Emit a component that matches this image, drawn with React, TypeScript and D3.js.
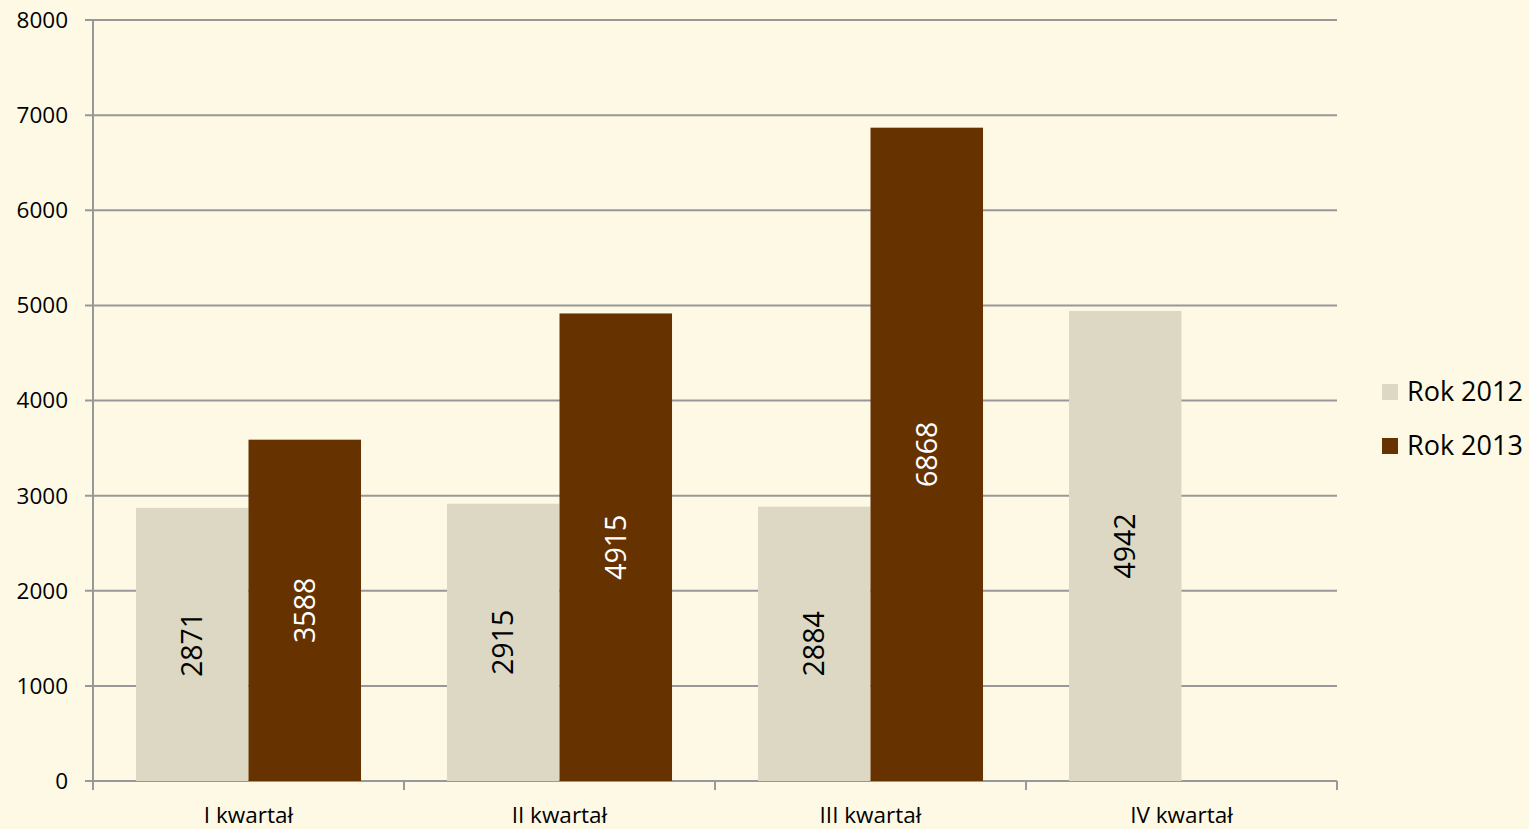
import React from "react";
import * as d3 from "d3";

const categories = ["I kwartał", "II kwartał", "III kwartał", "IV kwartał"];
const series2012 = [2871, 2915, 2884, 4942];
const series2013: (number | null)[] = [3588, 4915, 6868, null];
const seriesNames = ["Rok 2012", "Rok 2013"];
const yTicks = [0, 1000, 2000, 3000, 4000, 5000, 6000, 7000, 8000];

const W = 1529;
const H = 829;
const FONT = "Open Sans, Noto Sans, sans-serif";
const colors = ["#DDD8C3", "#663300"];
const labelColors = ["#000000", "#FFFFFF"];

export default function App() {
  const left = 93, right = 1337, top = 20, bottom = 781;
  const x = d3.scaleBand<string>().domain(categories).range([left, right]).paddingInner(0).paddingOuter(0);
  const bw = x.bandwidth();
  const inner = d3.scaleBand<string>().domain(["0", "1"]).range([0, bw]).paddingInner(0).paddingOuter(0.382);
  const y = d3.scaleLinear().domain([0, 8000]).range([bottom, top]);
  const data = [series2012, series2013];

  return (
    <svg width={W} height={H} style={{ position: "absolute", left: 0, top: 0, display: "block" }}>
      <rect x={0} y={0} width={W} height={H} fill="#FEF9E4" />
      {yTicks.map((t) => (
        <g key={t}>
          <line x1={85} x2={right} y1={y(t)} y2={y(t)} stroke="#989898" strokeWidth={2} />
          <text x={68} y={y(t)} dy="0.35em" textAnchor="end" fontFamily={FONT} fontSize={22.5} fill="#000">{t}</text>
        </g>
      ))}
      <line x1={left} x2={left} y1={top} y2={bottom + 9} stroke="#989898" strokeWidth={2} />
      {categories.map((c) => (
        <line key={c} x1={(x(c) as number) + bw} x2={(x(c) as number) + bw} y1={bottom} y2={bottom + 9} stroke="#989898" strokeWidth={2} />
      ))}
      {data.map((s, si) =>
        s.map((v, ci) => {
          if (v == null) return null;
          const bx = (x(categories[ci]) as number) + (inner(String(si)) as number);
          const w = inner.bandwidth();
          const by = y(v);
          const cx = bx + w / 2;
          const cy = (by + bottom) / 2;
          return (
            <g key={si + "-" + ci}>
              <rect x={bx} y={by} width={w} height={bottom - by} fill={colors[si]} />
              <text transform={`translate(${cx},${cy}) rotate(-90)`} textAnchor="middle" dy="0.35em" fontFamily={FONT} fontSize={28.5} fill={labelColors[si]}>{v}</text>
            </g>
          );
        })
      )}
      {categories.map((c) => (
        <text key={c} x={(x(c) as number) + bw / 2} y={815} dy="0.35em" textAnchor="middle" fontFamily={FONT} fontSize={22.5} fill="#000">{c}</text>
      ))}
      {seriesNames.map((n, i) => (
        <g key={n}>
          <rect x={1382} y={384 + i * 54} width={16} height={16} fill={colors[i]} />
          <text x={1407} y={392 + i * 54} dy="0.35em" fontFamily={FONT} fontSize={27} fill="#000">{n}</text>
        </g>
      ))}
    </svg>
  );
}
